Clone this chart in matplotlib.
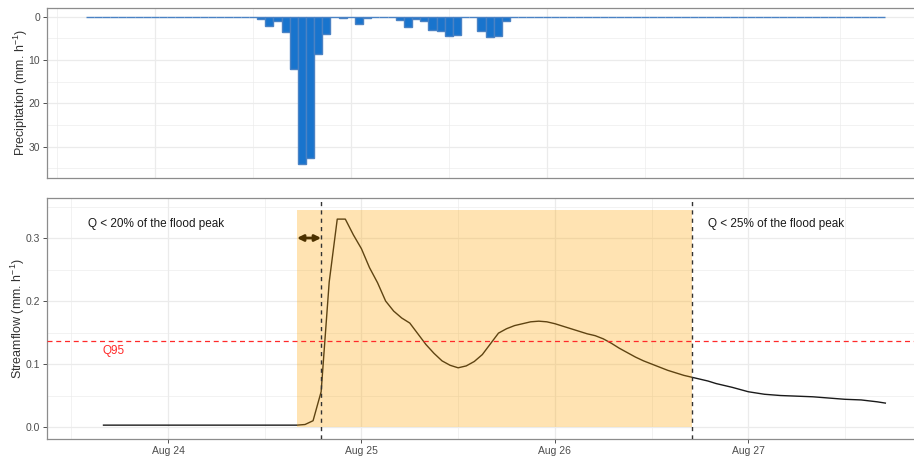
import numpy as np
import pandas as pd
import matplotlib
matplotlib.use('Agg')
import matplotlib.pyplot as plt
import matplotlib.dates as mdates
from matplotlib.ticker import MultipleLocator, FormatStrFormatter

plt.rcParams['font.family'] = ['Liberation Sans', 'DejaVu Sans']
plt.rcParams['mathtext.fontset'] = 'custom'
plt.rcParams['mathtext.rm'] = 'Liberation Sans'
plt.rcParams['mathtext.it'] = 'Liberation Sans:italic'
plt.rcParams['mathtext.bf'] = 'Liberation Sans:bold'

# ---------------- data ----------------
ref_day = pd.Timestamp('2019-08-24 00:00')

# hourly precipitation (mm/h), Aug 23 16:00 -> Aug 27 17:00
precip_start = pd.Timestamp('2019-08-23 16:00')
precip_event = [0.45, 2.2, 0.9, 3.5, 12.0, 34.0, 32.5, 8.5, 4.0, 0.0,
                0.3, 0.0, 1.6, 0.3, 0.0, 0.0, 0.0, 0.7, 2.4, 0.6,
                1.0, 3.0, 3.2, 4.4, 4.2, 0.0, 0.0, 3.3, 4.7, 4.5, 1.1]
precip_mm = [0.0] * 21 + precip_event + [0.0] * 46

# streamflow (mm/h), hours relative to Aug 24 00:00
flow_hours = [-8, 0, 8, 16, 17, 18, 19, 20, 21, 22, 23, 24, 25, 26, 27, 28,
              29, 30, 31, 32, 33, 34, 35, 36, 37, 38, 39, 40, 41, 42, 43, 44,
              45, 46, 47, 48, 49, 50, 51, 52, 53, 54, 55, 56, 57, 58, 59, 60,
              61, 62, 63, 64, 65, 66, 67, 68, 70, 72, 74, 76, 78, 80, 82, 84,
              86, 88, 89]
flow_mm = [0.003, 0.003, 0.003, 0.003, 0.004, 0.010, 0.056, 0.230, 0.330, 0.330,
           0.305, 0.283, 0.253, 0.229, 0.200, 0.184, 0.173, 0.165, 0.148, 0.131,
           0.117, 0.105, 0.098, 0.094, 0.097, 0.104, 0.115, 0.132, 0.149, 0.156,
           0.161, 0.164, 0.167, 0.168, 0.167, 0.164, 0.160, 0.156, 0.152, 0.148,
           0.145, 0.140, 0.133, 0.125, 0.118, 0.111, 0.105, 0.100, 0.095, 0.090,
           0.086, 0.082, 0.079, 0.076, 0.073, 0.069, 0.063, 0.056, 0.052, 0.050,
           0.049, 0.048, 0.046, 0.044, 0.043, 0.040, 0.038]

event_start = pd.Timestamp('2019-08-24 16:00')
rise_time = pd.Timestamp('2019-08-24 19:00')
event_end = pd.Timestamp('2019-08-26 17:00')
q95 = 0.1365
shade_top = 0.345
label_left = 'Q < 20% of the flood peak'
label_right = 'Q < 25% of the flood peak'

precip_times = pd.date_range(precip_start, periods=len(precip_mm), freq='h')
flow_times = ref_day + pd.to_timedelta(flow_hours, unit='h')

# ---------------- figure ----------------
W, H = 914, 458
fig = plt.figure(figsize=(W / 100, H / 100), dpi=100)

def px_axes(x0, y0, x1, y1):
    return fig.add_axes([x0 / W, 1 - y1 / H, (x1 - x0) / W, (y1 - y0) / H])

ax1 = px_axes(47, 8, 925, 178)
ax2 = px_axes(47, 198, 925, 439)

grid_c = '#ebebeb'
border_c = '#8c8c8c'
tick_c = '#4d4d4d'

def style(ax):
    ax.set_axisbelow(True)
    ax.grid(which='major', color=grid_c, lw=0.9)
    ax.grid(which='minor', color=grid_c, lw=0.45)
    for s in ax.spines.values():
        s.set_color(border_c)
        s.set_linewidth(0.9)
    ax.tick_params(which='major', length=3, width=0.6, color='#333333',
                   labelsize=7.5, labelcolor=tick_c, pad=2)
    ax.tick_params(which='minor', length=0)
    ax.xaxis.set_major_locator(mdates.DayLocator())
    ax.xaxis.set_minor_locator(mdates.HourLocator(byhour=12))
    ax.xaxis.set_major_formatter(mdates.DateFormatter('%b %d'))

# ---- top: precipitation ----
style(ax1)
ax1.bar(precip_times, precip_mm, width=1 / 24, align='center',
        color='#1874CD', edgecolor='#4a82c4', linewidth=1.0, zorder=2)
ax1.set_xlim(ref_day + pd.Timedelta(hours=-13.24), ref_day + pd.Timedelta(hours=94.36))
ax1.set_ylim(37.2, -2.0)
ax1.yaxis.set_major_locator(MultipleLocator(10))
ax1.yaxis.set_minor_locator(MultipleLocator(5))
ax1.tick_params(axis='x', which='both', length=0, labelbottom=False)
ax1.set_ylabel(r'Precipitation (mm. h$^{-1}$)', fontsize=9, color='#333333', labelpad=-1)

# ---- bottom: streamflow ----
style(ax2)
ax2.plot(flow_times, flow_mm, color='#1a1a1a', lw=1.0, zorder=3)
ax2.annotate('', xy=(rise_time, 0.30), xytext=(event_start, 0.30),
             arrowprops=dict(arrowstyle='<|-|>', color='black', lw=2.0,
                             mutation_scale=9, shrinkA=0, shrinkB=0), zorder=3)
ax2.fill_between([event_start, event_end], 0, shade_top, color='orange',
                 alpha=0.3, lw=0, zorder=4)
ax2.axvline(rise_time, color='#333333', ls=(0, (3, 3)), lw=1.0, zorder=5)
ax2.axvline(event_end, color='#333333', ls=(0, (3, 3)), lw=1.0, zorder=5)
ax2.axhline(q95, color='#ff2a2a', ls=(0, (4, 3)), lw=0.9, zorder=5)

ax2.text(ref_day + pd.Timedelta(hours=-1.5), 0.322, label_left, ha='center',
         va='center', fontsize=8.5, color='#1a1a1a', zorder=6)
ax2.text(ref_day + pd.Timedelta(hours=75.4), 0.322, label_right, ha='center',
         va='center', fontsize=8.5, color='#1a1a1a', zorder=6)
ax2.text(ref_day + pd.Timedelta(hours=-6.8), 0.121, 'Q95', ha='center',
         va='center', fontsize=8.5, color='#ff2a2a', zorder=6)

ax2.set_xlim(ref_day + pd.Timedelta(hours=-15.01), ref_day + pd.Timedelta(hours=93.92))
ax2.set_ylim(-0.019, 0.3635)
ax2.yaxis.set_major_locator(MultipleLocator(0.1))
ax2.yaxis.set_minor_locator(MultipleLocator(0.05))
ax2.yaxis.set_major_formatter(FormatStrFormatter('%.1f'))
ax2.set_ylabel(r'Streamflow (mm. h$^{-1}$)', fontsize=9, color='#333333', labelpad=-1)

fig.savefig('out.png', dpi=100)
